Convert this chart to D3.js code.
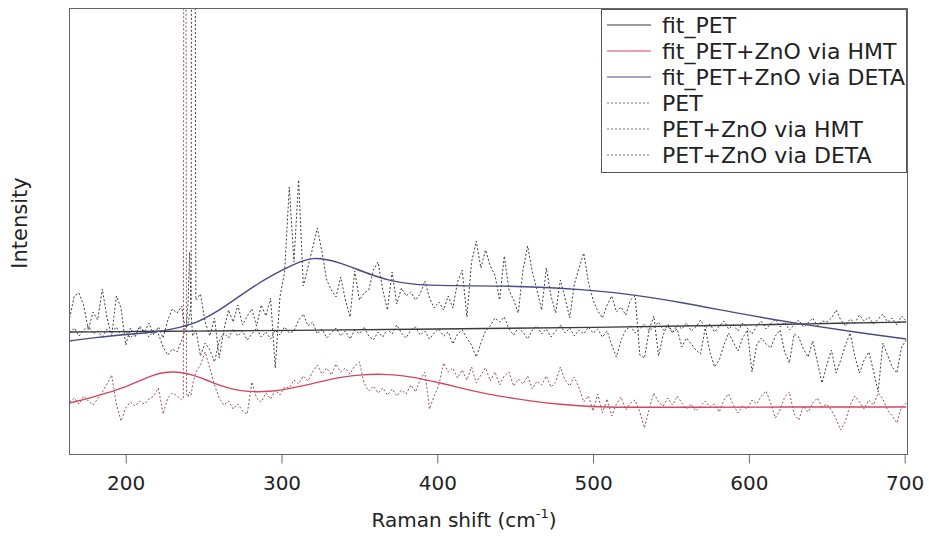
<!DOCTYPE html>
<html>
<head>
<meta charset="utf-8">
<script src="https://cdn.jsdelivr.net/npm/d3@7"></script>
<style>
  body { margin: 0; background: #fff; }
  text { font-family: "DejaVu Sans", Verdana, sans-serif; fill: #222; }
</style>
</head>
<body>
<svg id="raman" width="929" height="537"></svg>
<script>
// raman shift grid (cm-1) shared by the three measured spectra (finer around the 240 line)
var shift = [164,167,170,173,176,179,182,185,188,191,194,197,200,203,206,209,212,215,218,221,
  224,227,230,233,236,237,238,239,240,241,242,243,245,248,251,254,257,260,263,266,269,272,275,278,281,
  284,287,290,293,296,299,302,305,308,311,314,317,320,323,326,329,332,335,338,341,
  344,347,350,353,356,359,362,365,368,371,374,377,380,383,386,389,392,395,398,401,
  404,407,410,413,416,419,422,425,428,431,434,437,440,443,446,449,452,455,458,461,
  464,467,470,473,476,479,482,485,488,491,494,497,500,503,506,509,512,515,518,521,
  524,527,530,533,536,539,542,545,548,551,554,557,560,563,566,569,572,575,578,581,
  584,587,590,593,596,599,602,605,608,611,614,617,620,623,626,629,632,635,638,641,
  644,647,650,653,656,659,662,665,668,671,674,677,680,683,686,689,692,695,698,701];

// measured intensities (a.u.)
var pet = [121,126,118,124,128,120,123,117,125,121,127,119,123,116,121,126,122,117,124,120,
  107,99,105,102,114,118,125,130,150,202,140,118,124,98,111,104,92,113,121,116,125,118,123,114,120,
  126,117,122,115,124,119,127,121,123,134,140,128,132,120,125,116,121,126,118,123,
  115,124,120,127,118,114,122,117,125,120,129,121,116,124,127,119,123,115,121,125,
  118,122,110,120,124,116,109,97,111,123,128,136,132,137,125,119,126,122,115,124,
  128,120,125,117,123,129,121,126,118,124,120,127,121,125,117,123,109,97,114,124,
  128,121,125,130,123,127,132,124,128,121,129,125,131,123,127,134,126,130,122,128,
  133,125,129,123,131,126,120,128,133,125,130,135,127,132,124,129,134,127,131,136,
  128,133,132,136,144,134,128,135,131,139,133,137,130,135,140,132,136,129,138,133];

var petHmt = [52,56,50,58,53,49,55,62,70,79,50,33,46,52,48,53,50,55,58,66,
  40,56,61,58,54,56,1800,60,57,62,59,70,82,89,102,86,69,56,49,53,45,50,43,40,72,
  56,52,61,55,64,59,67,66,74,70,78,73,82,89,80,86,79,90,82,86,
  80,88,92,71,63,68,61,66,59,65,58,64,60,69,62,74,82,45,58,69,
  91,82,86,76,84,74,87,71,79,86,73,82,69,78,82,68,75,70,78,65,
  73,69,78,67,72,87,74,68,77,66,52,58,43,60,41,55,38,50,57,44,
  51,54,42,26,45,61,52,48,56,49,58,51,45,50,43,48,53,47,50,42,
  54,60,49,41,48,45,54,50,58,63,51,36,44,57,62,40,34,48,42,51,
  56,47,50,44,35,24,33,49,58,52,45,54,49,61,55,44,38,31,47,51];

var petDeta = [136,158,161,149,124,142,134,165,136,118,158,146,109,126,117,128,122,131,119,127,
  116,134,145,141,148,135,129,126,131,138,150,2000,154,160,132,118,136,96,124,144,132,149,129,138,145,
  128,149,138,156,86,157,182,267,192,274,168,187,206,226,202,174,164,157,177,154,
  137,183,154,161,164,184,192,164,144,182,150,166,158,162,154,160,173,156,146,152,
  144,158,146,172,184,137,192,213,186,204,188,179,154,198,164,154,141,184,208,182,
  164,144,186,158,141,174,156,136,170,186,201,172,154,143,136,149,158,142,147,139,
  154,158,99,96,124,138,98,119,130,122,125,107,116,110,104,100,126,102,87,94,
  109,121,112,103,116,124,82,109,116,110,106,118,124,102,91,120,117,105,97,113,
  92,71,89,104,81,94,109,121,98,81,94,102,83,62,111,99,87,81,107,114];

// fitted curves (a.u.), read at their own shifts
var fitPetShift = [164,250,300,400,500,600,633,701];
var fitPet = [122,123,123.5,125,126.5,129,130,132];

var fitHmtShift = [164,176,188,200,210,218,224,230,236,243,252,262,272,282,292,302,312,325,338,352,
  365,378,392,405,420,440,460,479,498,520,560,620,701];
var fitHmt = [51,55.5,61,67,74,79,81.5,82.3,81.5,79,74,67.5,63.5,62,62.5,64.5,67.5,72.5,77,79.5,
  80,78.5,74.5,70,64,57.5,53,49.5,47.3,46.7,46.7,47,47];

var fitDetaShift = [164,180,200,212,222,235,245,255,265,275,285,295,305,313,320,328,338,348,358,370,
  385,400,420,440,466,492,518,556,595,633,672,701];
var fitDeta = [113,116.5,119.5,121,122.5,126.5,131,139,149,160,170.5,179.5,187.5,193,196,195,191,185,179,173,
  169.5,168.5,168,168,167,164.5,161,152,140,130,121,115];

var tickValues = [200,300,400,500,600,700];

var series = [
  { name: "fit_PET", x: fitPetShift, y: fitPet, color: "#3a3a3a", dash: null, width: 1.4 },
  { name: "fit_PET+ZnO via HMT", x: fitHmtShift, y: fitHmt, color: "#d2475e", dash: null, width: 1.4 },
  { name: "fit_PET+ZnO via DETA", x: fitDetaShift, y: fitDeta, color: "#474c82", dash: null, width: 1.4 },
  { name: "PET", x: shift, y: pet, color: "#444", dash: "2,2", width: 1 },
  { name: "PET+ZnO via HMT", x: shift, y: petHmt, color: "#94505b", dash: "2,2", width: 1 },
  { name: "PET+ZnO via DETA", x: shift, y: petDeta, color: "#3c3c48", dash: "2,2", width: 1 }
];

var svg = d3.select("#raman"),
  margin = { top: 8, right: 22, bottom: 83, left: 69 },
  width = +svg.attr("width") - margin.left - margin.right,
  height = +svg.attr("height") - margin.top - margin.bottom;

var x = d3.scaleLinear().domain([163.6, 701.5]).range([0, width]),
  y = d3.scaleLinear().domain([0, 446]).range([height, 0]);

var g = svg.append("g")
  .attr("transform", "translate(" + margin.left + "," + margin.top + ")");

g.append("clipPath").attr("id", "plot-clip")
  .append("rect").attr("width", width).attr("height", height);

var line = function (curve) {
  return d3.line()
    .x(function (d) { return x(d[0]); })
    .y(function (d) { return y(d[1]); })
    .curve(curve);
};

var plot = g.append("g").attr("clip-path", "url(#plot-clip)");

// measured spectra first, the fits go on top
series.slice(3).concat(series.slice(0, 3)).forEach(function (s) {
  plot.append("path")
    .datum(d3.zip(s.x, s.y))
    .attr("fill", "none")
    .attr("stroke", s.color)
    .attr("stroke-width", s.width)
    .attr("stroke-dasharray", s.dash)
    .attr("d", line(s.dash ? d3.curveLinear : d3.curveBasis));
});

// frame
g.append("rect")
  .attr("x", 0.5).attr("y", 0.5)
  .attr("width", width).attr("height", height)
  .attr("fill", "none").attr("stroke", "#666").attr("stroke-width", 1);

var xAxis = g.append("g")
  .attr("class", "axis axis--x")
  .attr("transform", "translate(0," + (height + 0.5) + ")")
  .call(d3.axisBottom(x).tickValues(tickValues).tickSize(9).tickPadding(12));
xAxis.select(".domain").remove();
xAxis.selectAll(".tick line").attr("stroke", "#666");
xAxis.selectAll(".tick text")
  .attr("font-size", "20px")
  .attr("font-family", "DejaVu Sans, sans-serif")
  .attr("fill", "#222");

var xTitle = svg.append("text")
  .attr("x", 464)
  .attr("y", 527)
  .attr("text-anchor", "middle")
  .attr("font-size", "20px");
xTitle.append("tspan").text("Raman shift (cm");
xTitle.append("tspan").attr("dy", -9).attr("font-size", "13px").text("-1");
xTitle.append("tspan").attr("dy", 9).text(")");

svg.append("text")
  .attr("transform", "translate(27,223) rotate(-90)")
  .attr("text-anchor", "middle")
  .attr("font-size", "21px")
  .text("Intensity");

// legend
var legend = svg.append("g").attr("transform", "translate(601,9)");
legend.append("rect")
  .attr("x", 0.5).attr("y", 0.5)
  .attr("width", 305).attr("height", 163)
  .attr("fill", "#fff").attr("stroke", "#555");

var item = legend.selectAll(".item")
  .data(series)
  .enter().append("g")
  .attr("class", "item")
  .attr("transform", function (d, i) { return "translate(0," + (16 + i * 26) + ")"; });

item.append("line")
  .attr("x1", 6).attr("x2", 50)
  .attr("stroke", function (d) { return d.dash ? "#777" : d.color; })
  .attr("stroke-width", 1.2)
  .attr("stroke-dasharray", function (d) { return d.dash; });

item.append("text")
  .attr("x", 61)
  .attr("dy", "0.36em")
  .attr("font-size", "22px")
  .text(function (d) { return d.name; });
</script>
</body>
</html>
